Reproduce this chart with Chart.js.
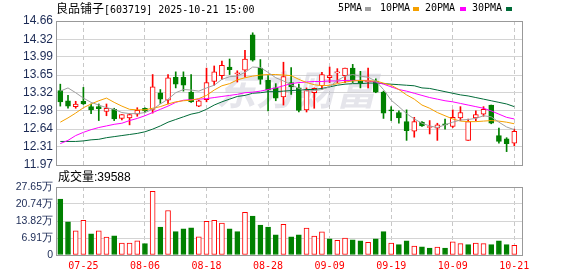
<!DOCTYPE html>
<html><head><meta charset="utf-8">
<script src="https://cdn.jsdelivr.net/npm/chart.js@4.4.1/dist/chart.umd.min.js"></script>
<style>
html,body{margin:0;padding:0;background:#fff;}
#wrap{position:relative;width:578px;height:276px;overflow:hidden;background:#fff;}
canvas{position:absolute;left:0;top:0;}
.t{position:absolute;white-space:nowrap;color:#000;line-height:12px;}
.cjk{font-family:"Noto Sans CJK SC";font-size:12px;}
.mono{font-family:"DejaVu Sans Mono";font-size:10px;}
.mk{position:absolute;width:6px;height:4px;}
</style></head><body>
<div id="wrap">
<canvas id="main" width="578" height="276"></canvas>
<canvas id="vol" width="578" height="276"></canvas>
<div class="t" id="title" style="left:56px;top:2px;"></div>
<div id="legend"></div>
<div class="t" id="volTitle" style="left:58px;top:170px;"></div>
</div>
<script>
// ---------------- data ----------------
const stockName = '良品铺子';
const stockCode = '603719';
const stamp = '2025-10-21 15:00';
const dates = ['07-22','07-23','07-24','07-25','07-28','07-29','07-30','07-31','08-01','08-04',
 '08-05','08-06','08-07','08-08','08-11','08-12','08-13','08-14','08-15','08-18',
 '08-19','08-20','08-21','08-22','08-25','08-26','08-27','08-28','08-29','09-01',
 '09-02','09-03','09-04','09-05','09-08','09-09','09-10','09-11','09-12','09-15',
 '09-16','09-17','09-18','09-19','09-22','09-23','09-24','09-25','09-26','09-29',
 '09-30','10-09','10-10','10-13','10-14','10-15','10-16','10-17','10-20','10-21'];
const xTickDates = ['07-25','08-06','08-18','08-28','09-09','09-19','10-09','10-21'];
const open = [13.36,13.17,13.06,13.16,13.06,13.06,12.97,13.01,12.84,12.85,
 12.92,13.03,13.01,13.32,13.18,13.61,13.61,13.33,13.07,13.19,
 13.53,13.64,13.80,13.67,13.74,14.40,13.78,13.55,13.41,13.24,
 13.51,13.41,13.00,13.32,13.45,13.60,13.69,13.64,13.78,13.54,
 13.52,13.54,13.33,13.00,12.95,12.78,12.60,12.77,12.67,12.66,
 12.74,12.69,12.85,12.43,12.85,12.92,13.09,12.52,12.46,12.38];
const high = [13.48,13.27,13.16,13.42,13.11,13.11,13.11,13.03,12.91,12.93,
 13.04,13.04,13.66,13.38,13.66,13.71,13.71,13.66,13.18,13.78,
 13.82,13.91,13.95,13.73,14.11,14.44,13.94,13.64,13.49,13.89,
 13.79,13.48,13.41,13.41,13.70,13.80,13.77,13.78,13.85,13.72,
 13.78,13.58,13.35,13.06,12.98,13.00,12.86,12.78,12.80,12.75,
 12.83,13.00,13.06,12.83,12.98,13.06,13.09,12.66,12.48,12.64];
const low = [13.07,13.03,13.03,13.10,12.93,12.80,12.89,12.80,12.81,12.72,
 12.88,12.95,12.94,13.12,13.11,13.41,13.35,13.14,13.06,13.15,
 13.46,13.57,13.66,13.52,13.61,13.91,13.48,12.98,13.17,13.09,
 13.29,12.96,12.96,13.03,13.38,13.51,13.51,13.51,13.51,13.41,
 13.41,13.32,12.84,12.80,12.75,12.43,12.49,12.69,12.55,12.43,
 12.64,12.67,12.80,12.43,12.80,12.88,12.74,12.38,12.22,12.33];
const close = [13.15,13.07,13.11,13.11,13.00,13.02,13.03,12.83,12.91,12.91,
 12.99,12.98,13.43,13.20,13.60,13.48,13.46,13.15,13.17,13.51,
 13.71,13.83,13.75,13.69,13.95,13.93,13.57,13.37,13.22,13.62,
 13.43,12.99,13.37,13.40,13.66,13.64,13.70,13.78,13.54,13.51,
 13.53,13.33,12.94,12.98,12.85,12.61,12.78,12.70,12.69,12.72,
 12.72,12.86,12.95,12.78,12.91,13.01,12.75,12.41,12.37,12.60];
const ma5 = [13.35,13.41,13.32,13.22,13.14,13.09,13.04,13.01,12.95,12.93,
 12.93,12.95,13.01,13.11,13.20,13.32,13.38,13.37,13.35,13.41,
 13.46,13.57,13.62,13.63,13.70,13.80,13.79,13.70,13.60,13.54,
 13.47,13.40,13.35,13.36,13.38,13.43,13.55,13.63,13.66,13.63,
 13.61,13.54,13.38,13.18,13.06,12.93,12.83,12.75,12.70,12.67,
 12.72,12.77,12.81,12.82,12.84,12.89,12.87,12.77,12.68,12.63];
const ma10 = [12.77,12.85,12.94,13.04,13.11,13.17,13.22,13.14,13.07,13.01,
 13.00,13.00,13.03,13.06,13.11,13.15,13.17,13.18,13.21,13.27,
 13.37,13.45,13.49,13.56,13.60,13.63,13.65,13.66,13.66,13.65,
 13.64,13.57,13.51,13.47,13.45,13.46,13.49,13.52,13.54,13.55,
 13.54,13.54,13.50,13.46,13.38,13.28,13.20,13.09,13.03,12.95,
 12.89,12.83,12.79,12.78,12.78,12.79,12.80,12.79,12.77,12.74];
const ma20 = [12.37,12.43,12.52,12.58,12.63,12.67,12.70,12.73,12.75,12.80,
 12.84,12.89,12.95,13.01,13.07,13.14,13.18,13.19,13.20,13.21,
 13.23,13.25,13.27,13.29,13.32,13.33,13.35,13.38,13.41,13.45,
 13.49,13.51,13.52,13.53,13.53,13.54,13.54,13.55,13.55,13.55,
 13.54,13.52,13.48,13.43,13.38,13.35,13.31,13.27,13.23,13.20,
 13.17,13.15,13.12,13.09,13.06,13.03,12.98,12.92,12.86,12.83];
const ma30 = [12.41,12.41,12.41,12.42,12.44,12.45,12.48,12.50,12.52,12.54,
 12.56,12.59,12.64,12.70,12.77,12.82,12.87,12.92,12.95,13.01,
 13.09,13.15,13.20,13.25,13.27,13.31,13.32,13.34,13.34,13.35,
 13.36,13.37,13.38,13.38,13.40,13.43,13.46,13.48,13.49,13.49,
 13.50,13.50,13.49,13.48,13.47,13.46,13.45,13.41,13.40,13.37,
 13.34,13.31,13.28,13.26,13.23,13.20,13.17,13.14,13.11,13.06];
// volume in 万股
const volume = [22.7,13.5,9.8,14.1,8.6,9.8,7.3,7.8,4.8,4.8,
 5.8,4.6,25.9,11.4,18.1,9.5,10.6,11.0,7.4,13.7,
 14.1,13.0,10.6,9.5,17.3,15.8,12.2,11.4,8.2,12.5,
 7.4,8.2,10.9,7.7,9.4,6.6,6.0,6.9,6.2,5.8,
 5.2,6.6,9.5,4.8,4.2,5.8,3.6,3.3,2.8,3.2,
 2.8,5.4,4.6,4.2,4.8,4.6,4.2,5.8,4.2,3.9588];
// 1 = volume day closed up (red), 0 = down (green)
const volUp = [0,0,1,1,0,1,1,0,1,1, 1,0,1,0,1,0,0,0,1,1,
 1,1,0,0,1,0,0,0,0,1, 0,0,1,1,1,0,1,1,0,0,
 1,0,0,1,0,0,1,0,0,1, 0,1,1,0,1,1,0,0,0,1];
const lastVolume = 39588;
const priceTicks = ['11.97','12.31','12.64','12.98','13.32','13.65','13.99','14.32','14.66'];
const volTicks = ['0','6.91','13.82','20.74','27.65'];
const maNames = ['5PMA','10PMA','20PMA','30PMA'];

// ---------------- styles ----------------
const RED = '#ff0000', GREEN = '#008000';
const MA_COLORS = ['#a0a0a0','#f5a000','#ff00ff','#006b38'];
const XMIN = -0.56, XMAX = 60.0;
const tickIdx = xTickDates.map(d => dates.indexOf(d));

// text elements
document.getElementById('title').innerHTML =
  '<span class="cjk">' + stockName + '</span><span class="mono">[' + stockCode + '] ' + stamp + '</span>';
document.getElementById('volTitle').innerHTML =
  '<span class="cjk" style="font-size:12px">成交量</span><span style="font-family:\'Liberation Sans\';font-size:12px">:' + lastVolume + '</span>';
const legendPos = [338, 380, 425, 472];
const markPos = [365, 413, 460, 506];
let lg = '';
maNames.forEach((n, i) => {
  lg += '<div class="t mono" style="left:' + legendPos[i] + 'px;top:2px;">' + n + '</div>';
  lg += '<div class="mk" style="left:' + markPos[i] + 'px;top:7px;background:' + MA_COLORS[i] + '"></div>';
});
document.getElementById('legend').innerHTML = lg;

const areaBorder = {
  id: 'areaBorder',
  afterDatasetsDraw(chart) {
    const {ctx, chartArea: a} = chart;
    ctx.save();
    ctx.strokeStyle = '#999';
    ctx.lineWidth = 1;
    ctx.strokeRect(Math.round(a.left) + 0.5, Math.round(a.top) + 0.5,
      Math.round(a.right - a.left), Math.round(a.bottom - a.top));
    ctx.restore();
  }
};
const watermark = {
  id: 'watermark',
  beforeDatasetsDraw(chart) {
    const {ctx} = chart;
    ctx.save();
    ctx.font = 'italic bold 40px "Noto Sans CJK SC"';
    ctx.fillStyle = 'rgba(190,190,205,0.4)';
    ctx.textAlign = 'center';
    ctx.textBaseline = 'middle';
    ctx.fillText('东方财富', 296, 90);
    ctx.restore();
  }
};

function xScale(showLabels) {
  return {
    type: 'linear', min: XMIN, max: XMAX, offset: false,
    afterBuildTicks: s => { s.ticks = tickIdx.map(v => ({value: v})); },
    afterFit: s => { s.height = showLabels ? 21 : 0; },
    grid: {display: true, offset: false, color: '#c8c8c8', lineWidth: 1, drawTicks: false},
    border: {display: false, dash: [4, 3]},
    ticks: {display: showLabels, autoSkip: false, maxRotation: 0, minRotation: 0, padding: 5,
      color: RED, font: {family: 'DejaVu Sans Mono', size: 10}, callback: v => dates[v]}
  };
}

const isUp = close.map((c, i) => c >= open[i]);

new Chart(document.getElementById('main'), {
  type: 'bar',
  data: {
    datasets: [
      ...[ma5, ma10, ma20, ma30].map((arr, k) => ({
        type: 'line', label: maNames[k], data: arr.map((y, i) => ({x: i, y})),
        borderColor: MA_COLORS[k], borderWidth: 1, pointRadius: 0, tension: 0, order: 1
      })),
      {type: 'bar', label: 'body', data: open.map((o, i) => ({x: i, y: [o, close[i]]})),
        backgroundColor: isUp.map(u => u ? '#ffffff' : GREEN),
        borderColor: isUp.map(u => u ? RED : GREEN),
        borderWidth: 1, borderSkipped: false, barThickness: 5, minBarLength: 1, grouped: false, order: 2},
      {type: 'bar', label: 'wick', data: low.map((l, i) => ({x: i, y: [l, high[i]]})),
        backgroundColor: isUp.map(u => u ? RED : GREEN), borderWidth: 0,
        barThickness: 1, grouped: false, order: 3}
    ]
  },
  options: {
    responsive: false, animation: false, devicePixelRatio: 1,
    layout: {padding: {top: 21, right: 56, bottom: 111, left: 0}},
    plugins: {legend: {display: false}, tooltip: {enabled: false}},
    scales: {
      x: xScale(false),
      y: {
        type: 'linear', position: 'left', min: 11.97, max: 14.66, beginAtZero: false,
        afterBuildTicks: s => { s.ticks = priceTicks.map(v => ({value: parseFloat(v)})); },
        afterFit: s => { s.width = 56; },
        grid: {color: '#d4d4d4', drawTicks: false},
        border: {display: true, color: '#999'},
        ticks: {padding: 3, color: '#1b2a55', font: {family: 'Liberation Sans', size: 12},
          callback: (v, i) => priceTicks[i]}
      }
    }
  },
  plugins: [watermark, areaBorder]
});

new Chart(document.getElementById('vol'), {
  type: 'bar',
  data: {
    datasets: [{
      label: 'volume', data: volume.map((v, i) => ({x: i, y: v})),
      backgroundColor: volUp.map(u => u ? '#ffffff' : GREEN),
      borderColor: volUp.map(u => u ? RED : GREEN),
      borderWidth: 1, borderSkipped: false, barThickness: 5, grouped: false
    }]
  },
  options: {
    responsive: false, animation: false, devicePixelRatio: 1,
    layout: {padding: {top: 187, right: 56, bottom: 0, left: 0}},
    plugins: {legend: {display: false}, tooltip: {enabled: false}},
    scales: {
      x: xScale(true),
      y: {
        type: 'linear', position: 'left', min: 0, max: parseFloat(volTicks[volTicks.length - 1]),
        afterBuildTicks: s => { s.ticks = volTicks.map(v => ({value: parseFloat(v)})); },
        afterFit: s => { s.width = 56; },
        grid: {color: '#d4d4d4', drawTicks: false},
        border: {display: true, color: '#999'},
        ticks: {padding: 3, color: '#1b2a55', font: {family: 'Liberation Sans', size: 10.5},
          callback: (v, i) => volTicks[i] === '0' ? '0' : volTicks[i] + '万'}
      }
    }
  },
  plugins: [areaBorder]
});
</script>
</body></html>
